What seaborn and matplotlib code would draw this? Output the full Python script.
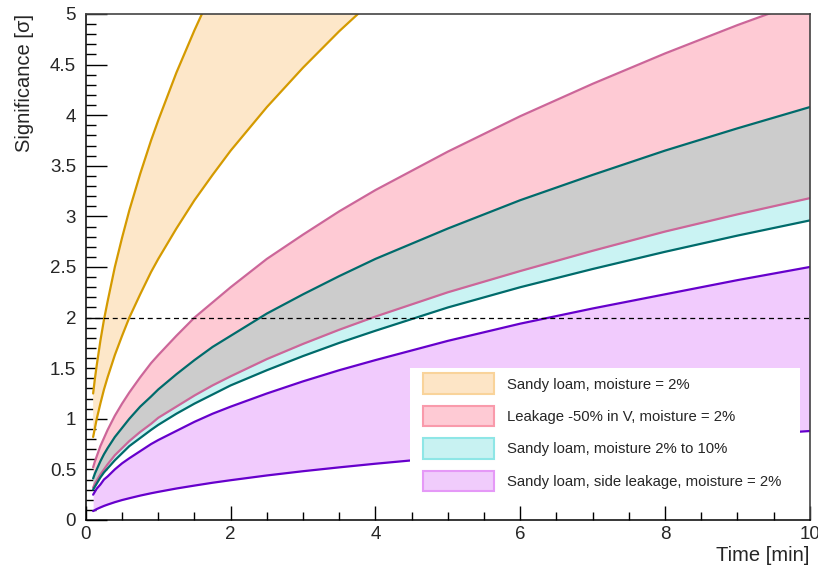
import matplotlib
matplotlib.use('Agg')
import matplotlib.pyplot as plt
from matplotlib.patches import Patch, Rectangle
from matplotlib.ticker import MultipleLocator, FuncFormatter
import seaborn as sns

# Values
time_min = [0.1, 0.125, 0.15, 0.2, 0.25, 0.3, 0.4, 0.5, 0.6, 0.75, 0.9, 1,
            1.25, 1.5, 1.75, 2, 2.5, 3, 3.5, 4, 5, 6, 7, 8, 9, 10]

sandy_hi = [1.25, 1.40, 1.53, 1.77, 1.98, 2.16, 2.50, 2.79, 3.06, 3.42, 3.75, 3.95,
            4.42, 4.84, 5.23, 5.59, 6.25, 6.84, 7.39, 7.90, 8.83, 9.68, 10.45, 11.17, 11.85, 12.49]
sandy_lo = [0.82, 0.91, 1.00, 1.15, 1.29, 1.41, 1.63, 1.82, 2.00, 2.23, 2.45, 2.58,
            2.88, 3.16, 3.41, 3.65, 4.08, 4.47, 4.83, 5.16, 5.77, 6.32, 6.83, 7.30, 7.74, 8.16]
leak_hi = [0.52, 0.58, 0.63, 0.73, 0.81, 0.89, 1.03, 1.15, 1.26, 1.41, 1.55, 1.63,
           1.82, 2.00, 2.15, 2.30, 2.58, 2.82, 3.05, 3.26, 3.64, 3.99, 4.31, 4.61, 4.89, 5.15]
leak_lo = [0.32, 0.36, 0.39, 0.45, 0.50, 0.55, 0.64, 0.71, 0.78, 0.87, 0.95, 1.01,
           1.12, 1.23, 1.33, 1.42, 1.59, 1.74, 1.88, 2.01, 2.25, 2.46, 2.66, 2.85, 3.02, 3.18]
moist_hi = [0.41, 0.46, 0.50, 0.58, 0.65, 0.71, 0.82, 0.91, 1.00, 1.12, 1.22, 1.29,
            1.44, 1.58, 1.71, 1.82, 2.04, 2.23, 2.41, 2.58, 2.88, 3.16, 3.41, 3.65, 3.87, 4.08]
moist_lo = [0.30, 0.33, 0.36, 0.42, 0.47, 0.51, 0.59, 0.66, 0.73, 0.81, 0.89, 0.94,
            1.05, 1.15, 1.24, 1.33, 1.48, 1.62, 1.75, 1.87, 2.10, 2.30, 2.48, 2.65, 2.81, 2.96]
side_hi = [0.25, 0.28, 0.31, 0.35, 0.40, 0.43, 0.50, 0.56, 0.61, 0.68, 0.75, 0.79,
           0.88, 0.97, 1.05, 1.12, 1.25, 1.37, 1.48, 1.58, 1.77, 1.94, 2.09, 2.23, 2.37, 2.50]
side_lo = [0.088, 0.098, 0.108, 0.124, 0.139, 0.152, 0.176, 0.197, 0.215, 0.241, 0.264, 0.278,
           0.311, 0.340, 0.368, 0.393, 0.440, 0.482, 0.520, 0.556, 0.622, 0.681, 0.736, 0.786, 0.834, 0.879]

threshold = 2

labels = ['Sandy loam, moisture = 2%',
          'Leakage -50% in V, moisture = 2%',
          'Sandy loam, moisture 2% to 10%',
          'Sandy loam, side leakage, moisture = 2%']

sns.set_style('ticks')
plt.rcParams['font.family'] = ['Liberation Sans', 'DejaVu Sans']

fig = plt.figure(figsize=(8.18, 5.66), dpi=100)
ax = fig.add_axes([0.105, 0.0813, 0.885, 0.894])

# bands
ax.fill_between(time_min, sandy_lo, sandy_hi, color='#fde7c9', lw=0)
ax.fill_between(time_min, leak_lo, leak_hi, color='#fecad4', lw=0)
ax.fill_between(time_min, moist_lo, moist_hi, color='#caf3f3', lw=0)
ax.fill_between(time_min, leak_lo, moist_hi, color='#cccccc', lw=0)  # overlap
ax.fill_between(time_min, side_lo, side_hi, color='#f1cbfd', lw=0)

# band edges
curves = [(sandy_hi, '#d49a00'), (sandy_lo, '#d49a00'),
          (leak_hi, '#cc6699'), (leak_lo, '#cc6699'),
          (moist_hi, '#006b6b'), (moist_lo, '#006b6b'),
          (side_hi, '#6600cc'), (side_lo, '#6600cc')]
for vals, c in curves:
    sns.lineplot(x=time_min, y=vals, color=c, lw=1.6, ax=ax)

ax.axhline(threshold, color='black', lw=0.9, ls=(0, (4, 3)))

ax.set_xlim(0, 10)
ax.set_ylim(0, 5)
ax.xaxis.set_major_locator(MultipleLocator(2))
ax.xaxis.set_minor_locator(MultipleLocator(0.5))
ax.yaxis.set_major_locator(MultipleLocator(0.5))
ax.yaxis.set_minor_locator(MultipleLocator(0.1))
ax.yaxis.set_major_formatter(FuncFormatter(lambda v, p: f'{v:g}'))

ax.tick_params(axis='x', which='major', direction='in', length=10, width=1, labelsize=13.5, pad=4, color='black')
ax.tick_params(axis='x', which='minor', direction='in', length=5.5, width=1, color='black')
ax.tick_params(axis='y', which='major', direction='in', length=15, width=1, labelsize=13.5, pad=7, color='black')
ax.tick_params(axis='y', which='minor', direction='in', length=7.5, width=1, color='black')

for s in ['left', 'bottom']:
    ax.spines[s].set_color('black')
    ax.spines[s].set_linewidth(1.1)
for s in ['top', 'right']:
    ax.spines[s].set_visible(True)
    ax.spines[s].set_color('#444444')
    ax.spines[s].set_linewidth(1.2)

ax.set_xlabel('Time [min]', fontsize=14.5, loc='right')
ax.xaxis.set_label_coords(1.0, -0.052)
ax.set_ylabel('Significance [σ]', fontsize=14.5, loc='top')
ax.yaxis.set_label_coords(-0.072, 1.0)

# legend
ax.add_patch(Rectangle((0.4475, 0.0296), 0.5387, 0.2708, transform=ax.transAxes,
                       facecolor='white', edgecolor='none', zorder=4))
handles = [Patch(facecolor='#fde5c6', edgecolor='#f9d39a', lw=1.5),
           Patch(facecolor='#fecad4', edgecolor='#f99aab', lw=1.5),
           Patch(facecolor='#c8f2f2', edgecolor='#8ee6e6', lw=1.5),
           Patch(facecolor='#f0ccfc', edgecolor='#e599f7', lw=1.5)]
leg = ax.legend(handles, labels, loc='upper left', bbox_to_anchor=(0.4655, 0.2895),
                frameon=False, fontsize=10.7, handlelength=4.8, handleheight=1.75,
                labelspacing=0.8, handletextpad=0.88, borderpad=0, borderaxespad=0)
leg.set_zorder(5)

fig.savefig('out.png', dpi=100)
